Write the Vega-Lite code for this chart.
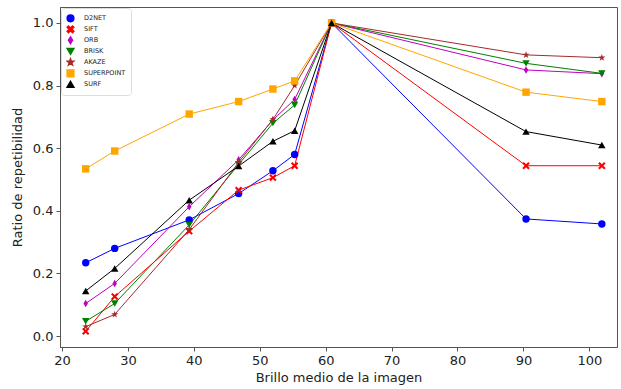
{
  "$schema": "https://vega.github.io/schema/vega-lite/v6.json",
  "width": 557,
  "height": 340,
  "autosize": {"type": "none"},
  "padding": {"left": 60, "top": 7, "right": 4, "bottom": 42},
  "config": {
    "view": {"stroke": "#555", "strokeWidth": 1},
    "font": "DejaVu Sans",
    "axis": {"grid": false, "domainColor": "#555", "tickColor": "#555", "labelColor": "#222", "titleColor": "#222", "labelFontSize": 13, "titleFontSize": 13, "titleFontWeight": "normal", "tickSize": 4, "labelPadding": 3}
  },
  "data": {"values": [
    {"s":"D2NET","x":23.6,"y":0.234},{"s":"D2NET","x":28,"y":0.28},{"s":"D2NET","x":39.3,"y":0.371},{"s":"D2NET","x":46.8,"y":0.455},{"s":"D2NET","x":52,"y":0.528},{"s":"D2NET","x":55.3,"y":0.58},{"s":"D2NET","x":60.9,"y":1.0},{"s":"D2NET","x":90.4,"y":0.374},{"s":"D2NET","x":101.9,"y":0.358},
    {"s":"SIFT","x":23.6,"y":0.015},{"s":"SIFT","x":28,"y":0.126},{"s":"SIFT","x":39.3,"y":0.335},{"s":"SIFT","x":46.8,"y":0.466},{"s":"SIFT","x":52,"y":0.506},{"s":"SIFT","x":55.3,"y":0.544},{"s":"SIFT","x":60.9,"y":1.0},{"s":"SIFT","x":90.4,"y":0.544},{"s":"SIFT","x":101.9,"y":0.544},
    {"s":"ORB","x":23.6,"y":0.104},{"s":"ORB","x":28,"y":0.168},{"s":"ORB","x":39.3,"y":0.413},{"s":"ORB","x":46.8,"y":0.563},{"s":"ORB","x":52,"y":0.69},{"s":"ORB","x":55.3,"y":0.756},{"s":"ORB","x":60.9,"y":1.0},{"s":"ORB","x":90.4,"y":0.85},{"s":"ORB","x":101.9,"y":0.838},
    {"s":"BRISK","x":23.6,"y":0.047},{"s":"BRISK","x":28,"y":0.104},{"s":"BRISK","x":39.3,"y":0.355},{"s":"BRISK","x":46.8,"y":0.548},{"s":"BRISK","x":52,"y":0.68},{"s":"BRISK","x":55.3,"y":0.738},{"s":"BRISK","x":60.9,"y":1.0},{"s":"BRISK","x":90.4,"y":0.871},{"s":"BRISK","x":101.9,"y":0.839},
    {"s":"AKAZE","x":23.6,"y":0.03},{"s":"AKAZE","x":28,"y":0.069},{"s":"AKAZE","x":39.3,"y":0.34},{"s":"AKAZE","x":46.8,"y":0.555},{"s":"AKAZE","x":52,"y":0.692},{"s":"AKAZE","x":55.3,"y":0.8},{"s":"AKAZE","x":60.9,"y":1.0},{"s":"AKAZE","x":90.4,"y":0.898},{"s":"AKAZE","x":101.9,"y":0.889},
    {"s":"SUPERPOINT","x":23.6,"y":0.534},{"s":"SUPERPOINT","x":28,"y":0.591},{"s":"SUPERPOINT","x":39.3,"y":0.709},{"s":"SUPERPOINT","x":46.8,"y":0.749},{"s":"SUPERPOINT","x":52,"y":0.789},{"s":"SUPERPOINT","x":55.3,"y":0.815},{"s":"SUPERPOINT","x":60.9,"y":1.0},{"s":"SUPERPOINT","x":90.4,"y":0.779},{"s":"SUPERPOINT","x":101.9,"y":0.749},
    {"s":"SURF","x":23.6,"y":0.144},{"s":"SURF","x":28,"y":0.216},{"s":"SURF","x":39.3,"y":0.434},{"s":"SURF","x":46.8,"y":0.543},{"s":"SURF","x":52,"y":0.622},{"s":"SURF","x":55.3,"y":0.656},{"s":"SURF","x":60.9,"y":1.0},{"s":"SURF","x":90.4,"y":0.653},{"s":"SURF","x":101.9,"y":0.61}
  ]},
  "encoding": {
    "x": {"field": "x", "type": "quantitative", "title": "Brillo medio de la imagen", "scale": {"domain": [19.7, 104.2], "nice": false, "zero": false}, "axis": {"values": [20,30,40,50,60,70,80,90,100], "titlePadding": 4}},
    "y": {"field": "y", "type": "quantitative", "title": "Ratio de repetibilidad", "scale": {"domain": [-0.035, 1.051], "nice": false, "zero": false}, "axis": {"values": [0,0.2,0.4,0.6,0.8,1.0], "format": ".1f", "titlePadding": 8}},
    "color": {"field": "s", "type": "nominal", "sort": ["D2NET","SIFT","ORB","BRISK","AKAZE","SUPERPOINT","SURF"],
      "scale": {"domain": ["D2NET","SIFT","ORB","BRISK","AKAZE","SUPERPOINT","SURF"], "range": ["#0000ff","#ff0000","#bf00bf","#008000","#a52a2a","#ffa500","#000000"]},
      "legend": {"title": null, "orient": "top-left", "offset": 1, "labelFontSize": 6.5, "labelColor": "#222", "symbolSize": 45, "rowPadding": 0, "clipHeight": 10.6, "labelOffset": 9, "fillColor": "white", "strokeColor": "#ddd", "padding": 5, "cornerRadius": 3, "symbolStrokeWidth": 1.5}}
  },
  "layer": [
    {"mark": {"type": "line", "strokeWidth": 1}, "encoding": {"detail": {"field": "s"}}},
    {"mark": {"type": "point", "filled": true, "size": 55, "opacity": 1},
     "encoding": {"shape": {"field": "s", "type": "nominal", "sort": ["D2NET","SIFT","ORB","BRISK","AKAZE","SUPERPOINT","SURF"],
       "scale": {"domain": ["D2NET","SIFT","ORB","BRISK","AKAZE","SUPERPOINT","SURF"], "range": ["circle", "M-1,-0.6L-0.6,-1L0,-0.4L0.6,-1L1,-0.6L0.4,0L1,0.6L0.6,1L0,0.4L-0.6,1L-1,0.6L-0.4,0Z", "M0,-1L0.6,0L0,1L-0.6,0Z", "triangle-down", "M0,-1L0.24,-0.33L0.95,-0.31L0.38,0.12L0.59,0.81L0,0.4L-0.59,0.81L-0.38,0.12L-0.95,-0.31L-0.24,-0.33Z", "square", "triangle-up"]},
       "legend": {"title": null}}}}
  ]
}
